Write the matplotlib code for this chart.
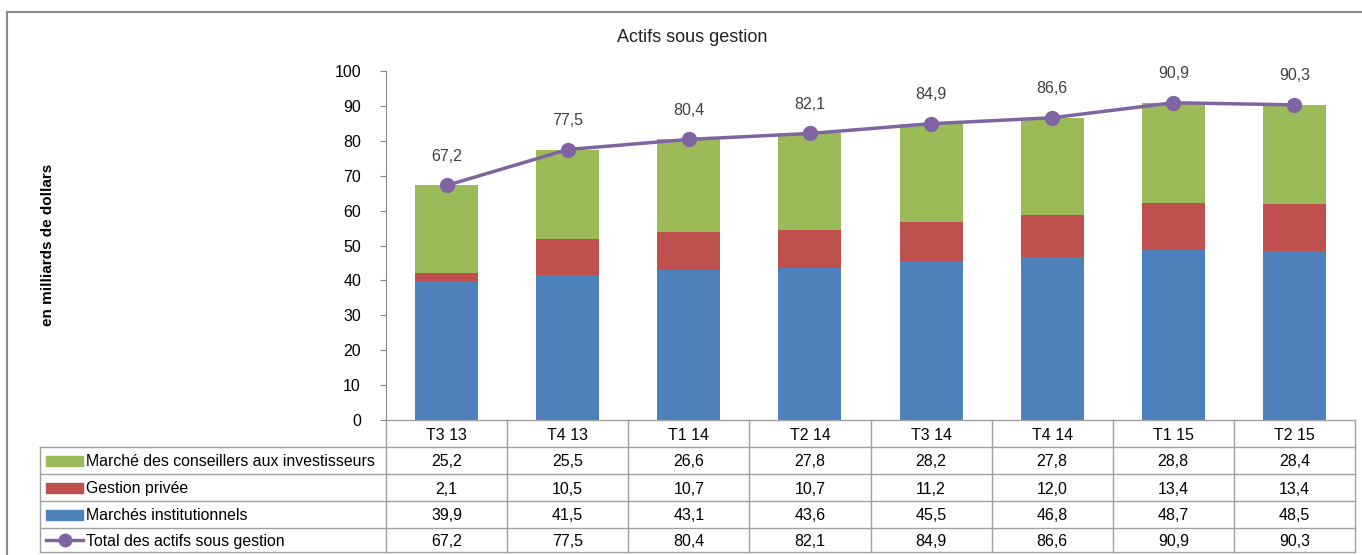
import matplotlib.pyplot as plt
from matplotlib.patches import Rectangle

plt.rcParams['font.family'] = ['Liberation Sans', 'DejaVu Sans']

categories = ['T3 13', 'T4 13', 'T1 14', 'T2 14', 'T3 14', 'T4 14', 'T1 15', 'T2 15']
institutionnels = [39.9, 41.5, 43.1, 43.6, 45.5, 46.8, 48.7, 48.5]
gestion_privee = [2.1, 10.5, 10.7, 10.7, 11.2, 12.0, 13.4, 13.4]
conseillers = [25.2, 25.5, 26.6, 27.8, 28.2, 27.8, 28.8, 28.4]
total = [67.2, 77.5, 80.4, 82.1, 84.9, 86.6, 90.9, 90.3]

names = ['Marché des conseillers aux investisseurs', 'Gestion privée',
         'Marchés institutionnels', 'Total des actifs sous gestion']
c_blue, c_red, c_green, c_purple = '#4F81BD', '#C0504D', '#9BBB59', '#8064A2'

W, H = 1362, 555
fig = plt.figure(figsize=(W / 100, H / 100), dpi=100)


def px(x0, y0, x1, y1):
    # pixel box (top-left origin) -> figure fraction rect
    return [x0 / W, 1 - y1 / H, (x1 - x0) / W, (y1 - y0) / H]


# outer frame
frame = fig.add_axes([0, 0, 1, 1])
frame.set_xlim(0, W)
frame.set_ylim(H, 0)
frame.axis('off')
frame.plot([7, W], [12, 12], color='#8a8a8a', lw=1.5)
frame.plot([7, 7], [12, H], color='#8a8a8a', lw=1.5)

x_left, x_right = 386, 1355
ax = fig.add_axes(px(x_left, 71, x_right, 420))
n = len(categories)
xs = list(range(n))
bw = 0.52
ax.bar(xs, institutionnels, bw, color=c_blue)
ax.bar(xs, gestion_privee, bw, bottom=institutionnels, color=c_red)
bottom2 = [a + b for a, b in zip(institutionnels, gestion_privee)]
ax.bar(xs, conseillers, bw, bottom=bottom2, color=c_green)
ax.plot(xs, total, color=c_purple, lw=2.5, marker='o', ms=10, zorder=5)
for x, v in zip(xs, total):
    ax.annotate(f'{v:.1f}'.replace('.', ','), (x, v), xytext=(0, 21),
                textcoords='offset points', ha='center', va='center',
                fontsize=11.5, color='#404040')
ax.set_xlim(-0.5, n - 0.5)
ax.set_ylim(0, 100)
ax.set_yticks(range(0, 101, 10))
ax.tick_params(axis='y', labelsize=11.5, length=4, color='#888888', pad=14)
ax.set_xticks([])
for s in ['top', 'right', 'bottom']:
    ax.spines[s].set_visible(False)
ax.spines['left'].set_color('#888888')

fig.text(48 / W, 1 - 245 / H, 'en milliards de dollars', rotation=90,
         ha='center', va='center', fontsize=11, fontweight='bold')
fig.text(692 / W, 1 - 38 / H, 'Actifs sous gestion', ha='center', va='center',
         fontsize=13, color='#222222')

# data table
tb = fig.add_axes([0, 0, 1, 1])
tb.set_xlim(0, W)
tb.set_ylim(H, 0)
tb.axis('off')
tb.patch.set_alpha(0)
lc = '#a0a0a0'
rows_y = [420, 447, 474, 501, 528, 552]
cw = (x_right - x_left) / n
tb.plot([x_left, x_right], [420, 420], color=lc, lw=1)
for y in rows_y[1:]:
    tb.plot([40, x_right], [y, y], color=lc, lw=1)
tb.plot([40, 40], [447, 552], color=lc, lw=1)
for i in range(n + 1):
    tb.plot([x_left + i * cw] * 2, [420, 552], color=lc, lw=1)
for i, c in enumerate(categories):
    tb.text(x_left + (i + 0.5) * cw, 433.5, c, ha='center',
            va='center_baseline', fontsize=11.5)

series = [conseillers, gestion_privee, institutionnels, total]
colors = [c_green, c_red, c_blue, c_purple]
for r, (name, vals, col) in enumerate(zip(names, series, colors)):
    yc = (rows_y[r + 1] + rows_y[r + 2]) / 2
    if r < 3:
        tb.add_patch(Rectangle((46, yc - 5), 37, 10, color=col))
    else:
        tb.plot([46, 83], [yc, yc], color=col, lw=2.5)
        tb.plot([64.5], [yc], 'o', color=col, ms=9)
    tb.text(86, yc, name, ha='left', va='center_baseline', fontsize=11.4)
    for i, v in enumerate(vals):
        tb.text(x_left + (i + 0.5) * cw, yc, f'{v:.1f}'.replace('.', ','),
                ha='center', va='center_baseline', fontsize=11.5)

fig.savefig('out.png', dpi=100)
